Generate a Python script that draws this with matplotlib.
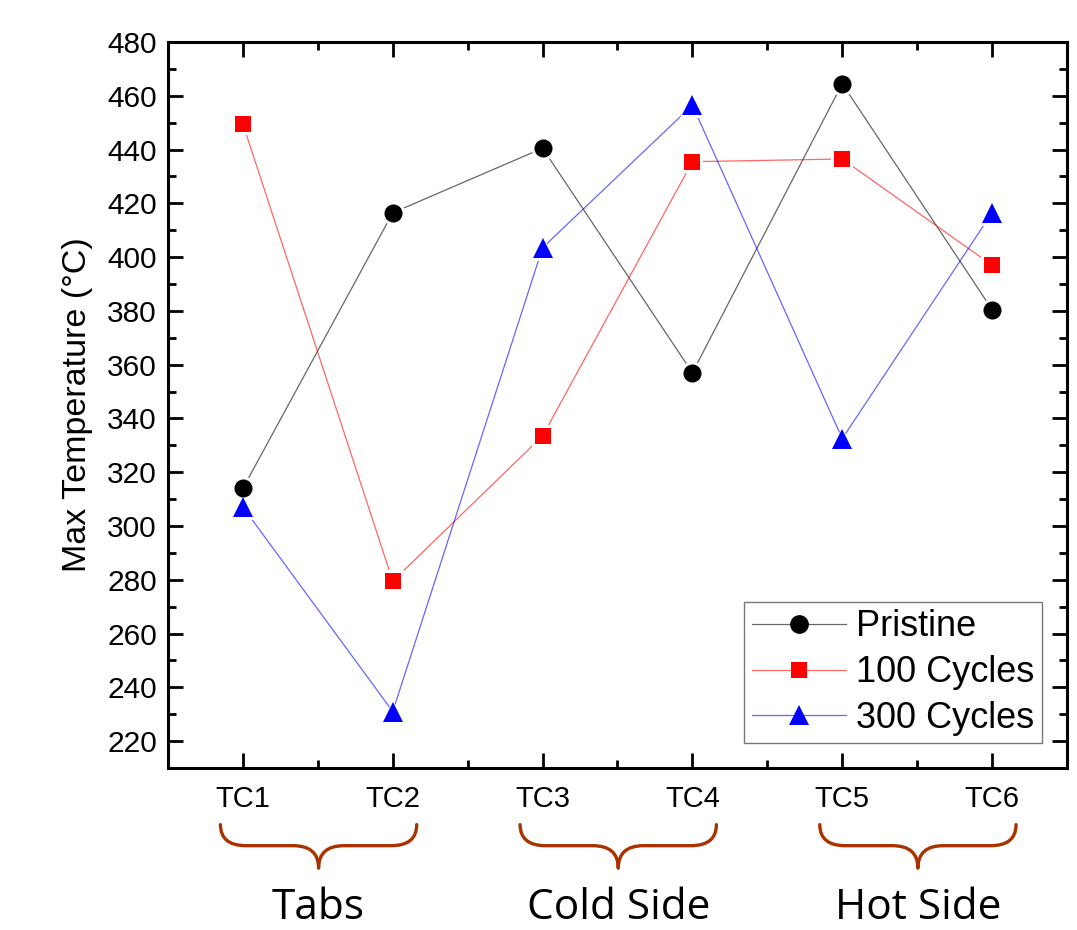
import matplotlib.pyplot as plt
from matplotlib.path import Path
from matplotlib.patches import PathPatch
from matplotlib.ticker import MultipleLocator
from matplotlib.colors import to_rgba

# dane
kanaly = ['TC1', 'TC2', 'TC3', 'TC4', 'TC5', 'TC6']
pristine = [314, 416.5, 440.5, 357, 464.5, 380.5]
cykle_100 = [449.5, 279.5, 333.5, 435.5, 436.5, 397]
cykle_300 = [307, 231, 403.5, 456.5, 332.5, 416.5]

grupy = ['Tabs', 'Cold Side', 'Hot Side']
zakresy_grup = [(1, 2), (3, 4), (5, 6)]

plt.rcParams['font.family'] = ['Liberation Sans', 'DejaVu Sans']

fig = plt.figure(figsize=(10.77, 9.3), dpi=100)
ax = fig.add_axes([0.156, 0.1742, 0.8347, 0.7806])

x = list(range(1, len(kanaly) + 1))

serie = [
    (pristine, 'Pristine', 'black', 'o', 13),
    (cykle_100, '100 Cycles', 'red', 's', 11.5),
    (cykle_300, '300 Cycles', 'blue', '^', 14),
]
# linie
for y, nazwa, kolor, marker, ms in serie:
    ax.plot(x, y, color=to_rgba(kolor, 0.6), lw=0.9)
# biale obwodki (przerwa miedzy linia a markerem)
for y, nazwa, kolor, marker, ms in serie:
    ax.plot(x, y, linestyle='none', marker=marker, color='white', ms=ms + 4,
            markeredgewidth=0)
# markery
for y, nazwa, kolor, marker, ms in serie:
    ax.plot(x, y, linestyle='none', marker=marker, color=kolor, ms=ms,
            markeredgewidth=0)
    # wpis do legendy
    ax.plot([], [], color=to_rgba(kolor, 0.6), lw=0.9, marker=marker, ms=ms + 0.5,
            markerfacecolor=kolor, markeredgewidth=0, label=nazwa)

ax.set_xlim(0.5, 6.5)
ax.set_ylim(210, 480)
ax.set_xticks(x)
ax.set_xticklabels(kanaly)
ax.xaxis.set_minor_locator(MultipleLocator(0.5))
ax.yaxis.set_minor_locator(MultipleLocator(10))
ax.set_yticks(range(220, 481, 20))

ax.tick_params(which='both', direction='in', top=True, right=True, width=2)
ax.tick_params(which='major', length=11)
ax.tick_params(which='minor', length=6)
ax.tick_params(axis='y', labelsize=21.5, pad=8)
ax.tick_params(axis='x', labelsize=21, pad=12)
for s in ax.spines.values():
    s.set_linewidth(2.2)

ax.set_ylabel('Max Temperature (°C)', fontsize=24.5, labelpad=10)

leg = ax.legend(loc='lower right', bbox_to_anchor=(0.972, 0.034),
                fontsize=26, frameon=True, fancybox=False, edgecolor='#555555',
                handlelength=2.6, handletextpad=0.3, borderpad=0.2,
                labelspacing=0.3, borderaxespad=0.0)
leg.get_frame().set_linewidth(1.0)

# klamry pod osia
tr = ax.get_xaxis_transform()
kolor_klamry = '#A83300'
gora, srodek, dol = -0.078, -0.107, -0.138
r = 0.17
for (a, b), nazwa in zip(zakresy_grup, grupy):
    x1, x2 = a - 0.15, b + 0.16
    xm = (x1 + x2) / 2
    verts = [
        (x1, gora), (x1, srodek), (x1 + r, srodek),
        (xm - r, srodek),
        (xm, srodek), (xm, dol),
        (xm, srodek), (xm + r, srodek),
        (x2 - r, srodek),
        (x2, srodek), (x2, gora),
    ]
    codes = [Path.MOVETO, Path.CURVE3, Path.CURVE3,
             Path.LINETO,
             Path.CURVE3, Path.CURVE3,
             Path.CURVE3, Path.CURVE3,
             Path.LINETO,
             Path.CURVE3, Path.CURVE3]
    patch = PathPatch(Path(verts, codes), transform=tr, fill=False,
                      edgecolor=kolor_klamry, lw=2.4, clip_on=False,
                      capstyle='round', joinstyle='round')
    ax.add_patch(patch)
    ax.text(xm, -0.208, nazwa, transform=tr, ha='center', va='baseline',
            fontsize=30.5, family=['Open Sans', 'DejaVu Sans'])

fig.savefig('out.png', dpi=100)
